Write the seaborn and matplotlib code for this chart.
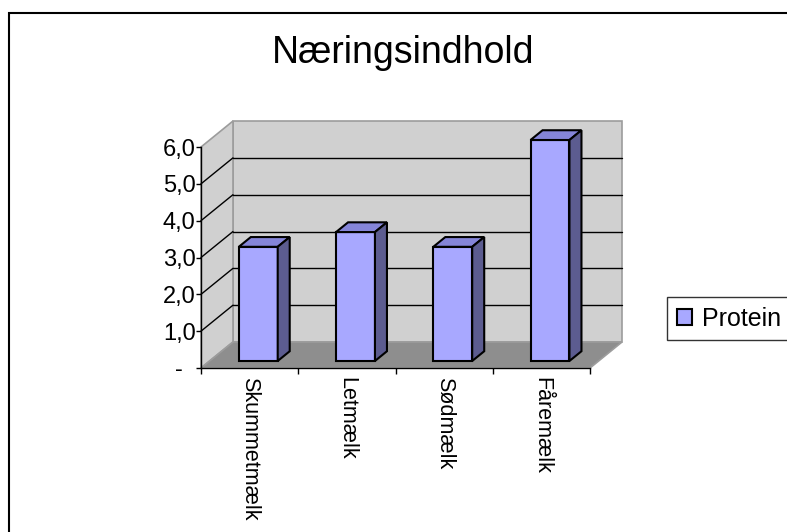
import matplotlib
matplotlib.use("Agg")
import matplotlib.pyplot as plt
from matplotlib.patches import Polygon, Rectangle
import seaborn as sns
import pandas as pd

# Protein content per milk type
categories = ["Skummetmælk", "Letmælk", "Sødmælk", "Fåremælk"]
protein = [3.1, 3.5, 3.1, 6.0]
series_name = "Protein"
y_ticks = [0, 1, 2, 3, 4, 5, 6]
y_tick_labels = ["-  ", "1,0", "2,0", "3,0", "4,0", "5,0", "6,0"]
title = "Næringsindhold"

sns.set_theme(style="white")
plt.rcParams["font.family"] = ["Liberation Sans", "DejaVu Sans"]
plt.rcParams["text.color"] = "black"
plt.rcParams["xtick.color"] = "black"
plt.rcParams["ytick.color"] = "black"
plt.rcParams["axes.labelcolor"] = "black"

FRONT = "#A8A8FF"
TOP = "#8585D8"
SIDE = "#5C5C90"
WALL = "#D0D0D0"
FLOOR = "#8E8E8E"
WALL_EDGE = "#9C9C9C"

W, H = 787, 532
fig = plt.figure(figsize=(W / 100, H / 100), dpi=100)
fig.patch.set_facecolor("white")

# oblique depth offset (data units) for the full floor depth
DX, DY = 0.329, 0.706
YMAX = 6
x_lo, x_hi = -0.5, len(categories) - 0.5
px_per_y = 36.83
ax_h = (YMAX + DY) * px_per_y
ax = fig.add_axes([201 / W, 1 - 368 / H, (622 - 201) / W, ax_h / H])
ax.set_facecolor("none")

df = pd.DataFrame({"Mælk": categories, series_name: protein})
sns.barplot(data=df, x="Mælk", y=series_name, color=FRONT, saturation=1,
            width=0.4, edgecolor="black", linewidth=1.5, ax=ax)

# walls and floor of the 3D box
wall_kw = dict(edgecolor=WALL_EDGE, linewidth=1.2, zorder=0.5, clip_on=False)
ax.add_patch(Polygon([(x_lo + DX, DY), (x_hi + DX, DY), (x_hi + DX, YMAX + DY),
                      (x_lo + DX, YMAX + DY)], facecolor=WALL, **wall_kw))
ax.add_patch(Polygon([(x_lo, 0), (x_lo, YMAX), (x_lo + DX, YMAX + DY),
                      (x_lo + DX, DY)], facecolor=WALL, **wall_kw))
ax.add_patch(Polygon([(x_lo, 0), (x_hi, 0), (x_hi + DX, DY), (x_lo + DX, DY)],
                     facecolor=FLOOR, **wall_kw))
for v in y_ticks[1:-1]:
    ax.plot([x_lo + DX, x_hi + DX], [v + DY, v + DY], color="black", lw=1.0,
            zorder=1, clip_on=False)
    ax.plot([x_lo, x_lo + DX], [v, v + DY], color="black", lw=1.0,
            zorder=1, clip_on=False)

# move bar fronts into their depth slot and add top and side faces
f0, fd = 0.27, 0.375
for p in list(ax.patches):
    if not isinstance(p, Rectangle):
        continue
    p.set_x(p.get_x() + f0 * DX)
    p.set_y(p.get_y() + f0 * DY)
    p.set_zorder(4)
    x0, y0 = p.get_x(), p.get_y()
    x1, y1 = x0 + p.get_width(), y0 + p.get_height()
    ox, oy = fd * DX, fd * DY
    ax.add_patch(Polygon([(x0, y1), (x1, y1), (x1 + ox, y1 + oy), (x0 + ox, y1 + oy)],
                         facecolor=TOP, edgecolor="black", lw=1.5, zorder=4,
                         joinstyle="miter", clip_on=False))
    ax.add_patch(Polygon([(x1, y0), (x1 + ox, y0 + oy), (x1 + ox, y1 + oy), (x1, y1)],
                         facecolor=SIDE, edgecolor="black", lw=1.5, zorder=4,
                         joinstyle="miter", clip_on=False))

ax.set_xlim(x_lo, x_hi + DX)
ax.set_ylim(0, YMAX + DY)
ax.set_xlabel("")
ax.set_ylabel("")

for s in ("top", "right"):
    ax.spines[s].set_visible(False)
for s in ("left", "bottom"):
    ax.spines[s].set_color("black")
    ax.spines[s].set_linewidth(1.0)
    ax.spines[s].set_zorder(5)
ax.spines["left"].set_bounds(0, YMAX)
ax.spines["bottom"].set_bounds(x_lo, x_hi)

ax.set_yticks(y_ticks, y_tick_labels)
ax.tick_params(axis="y", left=True, length=3.6, width=1.0, color="black",
               labelsize=17, pad=0.3, labelcolor="black")
ax.set_xticks(range(len(categories)), categories)
ax.set_xticks([x_lo + i for i in range(len(categories) + 1)], minor=True)
ax.tick_params(axis="x", which="major", bottom=True, length=0, labelsize=15.5,
               pad=6.5, labelrotation=-90, labelcolor="black")
ax.tick_params(axis="x", which="minor", bottom=True, length=4.5, width=1.0,
               color="black")
for lab in ax.get_xticklabels():
    lab.set_ha("center")
    lab.set_va("top")
    lab.set_rotation_mode("default")

fig.text(403 / W, 1 - 53 / H, title, ha="center", va="center", fontsize=27,
         color="black")

handle = Rectangle((0, 0), 1, 1, facecolor=FRONT, edgecolor="black", lw=1.5)
leg = fig.legend([handle], [series_name], loc="center left",
                 bbox_to_anchor=(667 / W, 1 - 318.5 / H), frameon=True,
                 fancybox=False, edgecolor="black", fontsize=18,
                 handlelength=0.6, handleheight=0.6, handletextpad=0.4,
                 borderpad=0.38, borderaxespad=0)
leg.get_frame().set_linewidth(1.0)
for t in leg.get_texts():
    t.set_color("black")

# outer chart border
fig.patches.append(Rectangle((9 / W, -0.2), 1.2, 1 - 13 / H + 0.2,
                             transform=fig.transFigure, fill=False,
                             edgecolor="black", linewidth=1.5))

fig.savefig("out.png", dpi=100)
